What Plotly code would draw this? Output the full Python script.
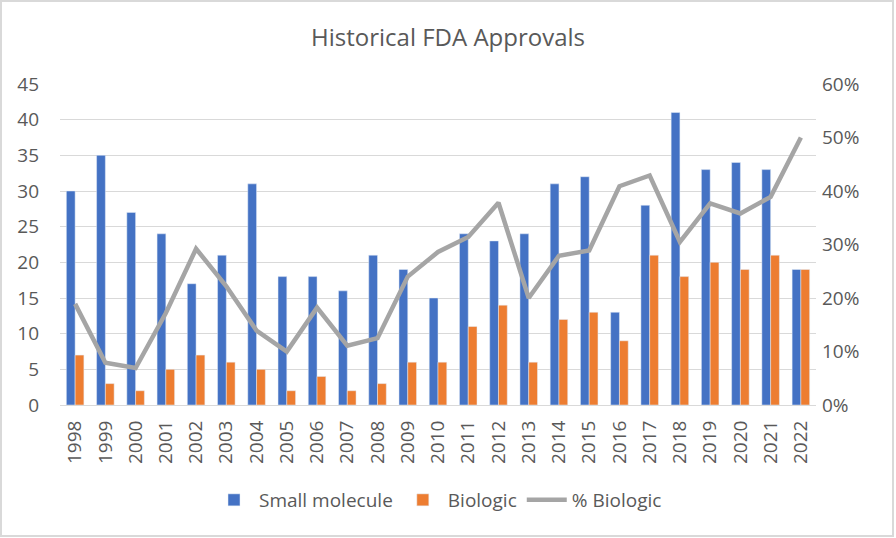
import plotly.graph_objects as go

years = [str(y) for y in range(1998, 2023)]
small_molecule = [30, 35, 27, 24, 17, 21, 31, 18, 18, 16, 21, 19, 15,
                  24, 23, 24, 31, 32, 13, 28, 41, 33, 34, 33, 19]
biologic = [7, 3, 2, 5, 7, 6, 5, 2, 4, 2, 3, 6, 6,
            11, 14, 6, 12, 13, 9, 21, 18, 20, 19, 21, 19]
# share of biologics
pct_biologic = [0.189, 0.079, 0.069, 0.172, 0.292, 0.222, 0.139, 0.100, 0.182,
                0.111, 0.125, 0.240, 0.286, 0.314, 0.378, 0.200, 0.279, 0.289,
                0.409, 0.429, 0.305, 0.377, 0.358, 0.389, 0.500]

font_color = "#595959"

fig = go.Figure()
fig.add_trace(go.Bar(x=years, y=small_molecule, name="Small molecule",
                     marker_color="#4472C4"))
fig.add_trace(go.Bar(x=years, y=biologic, name="Biologic",
                     marker_color="#ED7D31"))
fig.add_trace(go.Scatter(x=years, y=pct_biologic, name="% Biologic", yaxis="y2",
                         mode="lines",
                         line=dict(color="#A5A5A5", width=4.5)))

fig.update_layout(
    width=896, height=538,
    margin=dict(l=60, r=80, t=84, b=133, autoexpand=False),
    paper_bgcolor="white", plot_bgcolor="white",
    font=dict(family="Open Sans", size=19, color=font_color),
    title=dict(text="Historical FDA Approvals", x=0.5, xanchor="center",
               y=1 - 38 / 538, yanchor="middle",
               font=dict(size=24, color=font_color)),
    barmode="group", bargap=0.42, bargroupgap=0,
    xaxis=dict(tickangle=-90, showline=True, linecolor="#D9D9D9",
               ticks="", showgrid=False, tickfont=dict(size=19),
               ticklabelstandoff=7),
    yaxis=dict(range=[0, 45], dtick=5, showgrid=True, gridcolor="#D9D9D9",
               zeroline=False, ticks="", tickfont=dict(size=19),
               ticklabelstandoff=20),
    yaxis2=dict(range=[0, 0.6], dtick=0.1, tickformat=".0%", overlaying="y",
                side="right", showgrid=False, zeroline=False, ticks="",
                tickfont=dict(size=19), ticklabelstandoff=5),
    legend=dict(orientation="h", x=0.5, xanchor="center",
                y=-(500 - 405) / 321, yanchor="middle",
                font=dict(size=19), itemwidth=40, traceorder="normal"),
    shapes=[dict(type="rect", xref="paper", yref="paper",
                 x0=-59 / 756, x1=1 + 77 / 756,
                 y0=-131 / 321, y1=1 + 83 / 321,
                 line=dict(color="#D9D9D9", width=2))],
)

fig.write_html("out.html", config={"displayModeBar": False},
               post_script="document.body.style.margin='0';"
                           "document.body.style.overflow='hidden';")
